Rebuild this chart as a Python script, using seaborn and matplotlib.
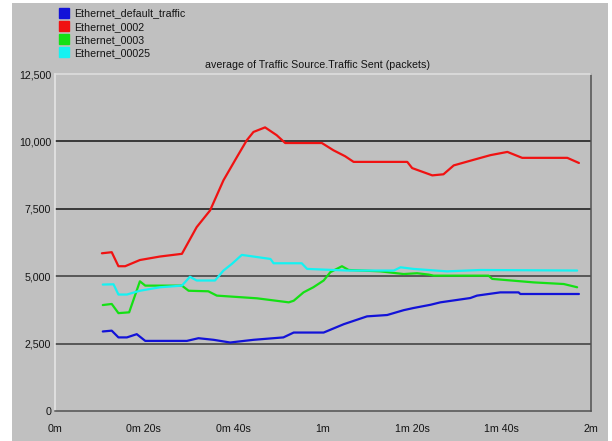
import numpy as np
import pandas as pd
import matplotlib
matplotlib.use("Agg")
import matplotlib.pyplot as plt
from matplotlib.lines import Line2D
from matplotlib.patches import Rectangle
from matplotlib.ticker import FuncFormatter
import seaborn as sns

# Series names and colours
series_names = ["Ethernet_default_traffic", "Ethernet_0002", "Ethernet_0003", "Ethernet_00025"]
series_colors = ["#1212D8", "#F01212", "#14E014", "#14F2F2"]

# Simulation time (seconds) and average traffic sent (packets)
default_t = [10.8, 12.8, 14.3, 16.2, 18.4, 20.3, 29.6, 32.2, 35.6, 39.3, 40.8, 44.5, 51.2,
             53.5, 60.2, 64.7, 69.9, 74.4, 78.1, 80.3, 84.1, 86.3, 93.0, 94.5, 99.7,
             103.8, 104.2, 117.3]
default_v = [2950, 2980, 2730, 2730, 2850, 2600, 2600, 2700, 2640, 2540, 2570, 2640, 2730,
             2910, 2910, 3220, 3510, 3560, 3740, 3820, 3940, 4030, 4190, 4280, 4400,
             4400, 4340, 4340]

e0002_t = [10.6, 12.8, 14.3, 15.8, 19.1, 23.6, 28.5, 31.8, 34.8, 37.8, 40.8, 43.0, 44.5,
           47.1, 49.7, 51.6, 59.8, 62.4, 65.0, 66.9, 78.9, 80.0, 84.5, 87.0, 89.3, 93.8,
           97.5, 101.3, 104.6, 114.7, 117.3]
e0002_v = [5850, 5890, 5370, 5370, 5600, 5730, 5830, 6820, 7440, 8560, 9420, 10040, 10350,
           10520, 10230, 9940, 9940, 9670, 9450, 9240, 9240, 9010, 8740, 8780, 9110, 9320,
           9490, 9610, 9390, 9390, 9200]

e0003_t = [10.8, 12.8, 14.3, 16.7, 19.1, 20.3, 28.5, 30.0, 34.4, 36.3, 45.3, 52.4, 53.5,
           55.7, 57.9, 60.2, 61.7, 64.3, 65.8, 72.9, 78.1, 81.1, 83.7, 84.8, 97.1, 97.9,
           107.2, 113.9, 116.9]
e0003_v = [3930, 3970, 3630, 3660, 4810, 4650, 4650, 4460, 4440, 4280, 4180, 4030, 4090,
           4400, 4590, 4840, 5150, 5370, 5230, 5180, 5080, 5110, 5060, 5020, 5020, 4900,
           4770, 4710, 4590]

e00025_t = [10.8, 13.2, 14.3, 16.2, 19.1, 23.6, 28.5, 30.3, 31.8, 35.9, 37.8, 39.7, 41.9,
            48.3, 49.0, 55.3, 56.5, 65.4, 75.9, 77.4, 80.3, 87.8, 95.3, 116.9]
e00025_v = [4690, 4700, 4320, 4320, 4460, 4590, 4650, 4980, 4840, 4840, 5210, 5460, 5790,
            5640, 5480, 5480, 5270, 5210, 5210, 5330, 5270, 5180, 5230, 5210]

tick_seconds = [0, 20, 40, 60, 80, 100, 120]
tick_labels = ["0m", "0m 20s", "0m 40s", "1m", "1m 20s", "1m 40s", "2m"]
y_ticks = [0, 2500, 5000, 7500, 10000, 12500]

frames = []
for name, t, v in zip(series_names,
                      [default_t, e0002_t, e0003_t, e00025_t],
                      [default_v, e0002_v, e0003_v, e00025_v]):
    frames.append(pd.DataFrame({"time": t, "value": v, "series": name}))
df = pd.concat(frames, ignore_index=True)

sns.set_style("white")
plt.rcParams["font.family"] = ["Liberation Sans", "DejaVu Sans"]
plt.rcParams["font.size"] = 7.7

bg = "#C0C0C0"
text_col = "#141414"
fig = plt.figure(figsize=(6.12, 4.41), dpi=100, facecolor="white")
# grey panel behind everything
fig.patches.append(Rectangle((12 / 612, 0), (608 - 12) / 612, 1 - 3 / 441,
                             transform=fig.transFigure, facecolor=bg,
                             edgecolor="none", zorder=-5))

ax = fig.add_axes([54.5 / 612, 30 / 441, (591 - 54.5) / 612, 337 / 441])
ax.set_zorder(2)
ax.set_facecolor(bg)

palette = dict(zip(series_names, series_colors))
sns.lineplot(data=df, x="time", y="value", hue="series", hue_order=series_names,
             palette=palette, linewidth=1.6, ax=ax, legend=False, sort=False,
             estimator=None)

ax.set_xlim(0, 120)
ax.set_ylim(0, 12500)
ax.set_xticks(tick_seconds)
ax.set_xticklabels(tick_labels)
ax.set_yticks(y_ticks)
ax.yaxis.set_major_formatter(FuncFormatter(lambda v, p: f"{int(v):,}"))
ax.set_xlabel("")
ax.set_ylabel("")

ax.tick_params(axis="y", length=0, pad=2.5, labelsize=7.7, colors=text_col)
ax.tick_params(axis="x", length=7, width=1, direction="out", pad=2,
               color="#404040", labelsize=7.7, labelcolor=text_col)

# horizontal reference lines
ax.yaxis.grid(True, linewidth=1.1, zorder=1)
ax.set_axisbelow(True)
grid_cols = {0: "none", 2500: "#3a3a3a", 5000: "#3a3a3a", 7500: "#141414",
             10000: "#141414", 12500: "none"}
for val, gl in zip(y_ticks, ax.get_ygridlines()):
    gl.set_color(grid_cols[val])

for side, col in [("left", "#E8E8E8"), ("top", "#E0E0E0"),
                  ("right", "#505050"), ("bottom", "#505050")]:
    ax.spines[side].set_visible(True)
    ax.spines[side].set_color(col)
    ax.spines[side].set_linewidth(1.1)

fig.text(317 / 612, 1 - 65 / 441, "average of Traffic Source.Traffic Sent (packets)",
         ha="center", va="center", fontsize=7.7, color=text_col, zorder=3)

handles = [Line2D([], [], linestyle="none", marker="s", markersize=7.5,
                  markerfacecolor=c, markeredgecolor=c) for c in series_colors]
leg = fig.legend(handles, series_names, loc="upper left",
                 bbox_to_anchor=(52 / 612, 1 - 1 / 441), frameon=False,
                 handlelength=0.9, handletextpad=0.45, labelspacing=0.3,
                 borderpad=0.2, fontsize=7.7, labelcolor=text_col)
leg.set_zorder(3)

fig.savefig("out.png", dpi=100, facecolor="white")
